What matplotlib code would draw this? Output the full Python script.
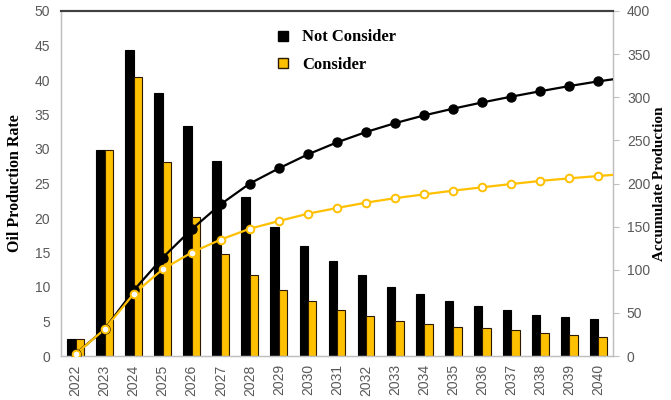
import matplotlib.pyplot as plt
from matplotlib.lines import Line2D

# --- data ---
years = [str(y) for y in range(2022, 2041)]
rate_not = [2.4, 29.9, 44.3, 38.1, 33.3, 28.2, 23.0, 18.7, 15.9, 13.8,
            11.7, 10.0, 9.0, 7.9, 7.2, 6.6, 6.0, 5.6, 5.4]
rate_con = [2.4, 29.9, 40.4, 28.1, 20.1, 14.8, 11.7, 9.5, 8.0, 6.7,
            5.8, 5.1, 4.6, 4.2, 4.0, 3.8, 3.4, 3.0, 2.8]
cum_not = [2.4, 31, 76, 114, 147, 176, 200, 217.6, 233.8, 247.7,
           259.7, 270, 279, 286.8, 294, 300.7, 307, 313, 318.5]
cum_con = [2.0, 31, 72, 100.5, 120, 135, 147.6, 156.5, 165, 171.6,
           177.8, 183, 187.4, 191.7, 195.6, 199.4, 203, 206, 208.7]
# where each curve meets the right edge of the plot
cum_not_edge = 320.8
cum_con_edge = 210.0

black = "#000000"
gold = "#FFC000"
grey_txt = "#595959"
grey_axis = "#BFBFBF"

fig = plt.figure(figsize=(6.71, 4.0), dpi=100)
ax = fig.add_axes([0.0909, 0.11, 0.8227, 0.8625])
ax2 = ax.twinx()

x = list(range(len(years)))
w = 0.29
ax.bar([i - w / 2 for i in x], rate_not, width=w, color=black,
       edgecolor=black, linewidth=0.8, zorder=2)
ax.bar([i + w / 2 for i in x], rate_con, width=w, color=gold,
       edgecolor="#2b1a00", linewidth=0.8, zorder=2)

# accumulated production lines (running to the right edge)
x_edge = x + [len(years) - 0.5]
ax2.plot(x_edge, cum_not + [cum_not_edge], color=black, lw=1.6, zorder=3)
ax2.plot(x, cum_not, ls="none", marker="o", ms=6.5, color=black, zorder=4)
ax2.plot(x_edge, cum_con + [cum_con_edge], color=gold, lw=1.6, zorder=3)
ax2.plot(x, cum_con, ls="none", marker="o", ms=5.5, mfc="white",
         mec=gold, mew=1.4, zorder=4)

ax.set_xlim(-0.5, len(years) - 0.5)
ax.set_ylim(0, 50)
ax2.set_ylim(0, 400)
ax.set_yticks(range(0, 51, 5))
ax2.set_yticks(range(0, 401, 50))
ax.set_xticks(x)
ax.set_xticklabels(years, rotation=90)

for lab in ax.get_yticklabels() + ax2.get_yticklabels() + ax.get_xticklabels():
    lab.set_fontfamily("Liberation Sans")
    lab.set_fontsize(10)
    lab.set_color(grey_txt)

ax.tick_params(axis="y", length=0, pad=8)
ax.tick_params(axis="x", length=0, pad=6)
ax2.tick_params(axis="y", length=4, color=grey_axis, width=0.8, pad=6)

for a in (ax, ax2):
    for side in ("left", "right", "bottom"):
        a.spines[side].set_color(grey_axis)
        a.spines[side].set_linewidth(0.9)
    a.spines["top"].set_color("#404040")
    a.spines["top"].set_linewidth(1.5)

ax.set_ylabel("Oil Production Rate", family="Liberation Serif",
              fontweight="bold", fontsize=11.5, labelpad=8)
ax2.set_ylabel("Accumulate Production", family="Liberation Serif",
               fontweight="bold", fontsize=11, rotation=90, labelpad=2)

handles = [
    Line2D([], [], ls="none", marker="s", ms=7, color=black),
    Line2D([], [], ls="none", marker="s", ms=7, mfc=gold, mec="#2b1a00", mew=1.0),
]
ax2.legend(handles, ["Not Consider", "Consider"], loc="upper left",
           bbox_to_anchor=(0.352, 0.99), frameon=False, handletextpad=0.4,
           handlelength=1.5, labelspacing=0.7,
           prop={"family": "Liberation Serif", "weight": "bold", "size": 12})

fig.savefig("out.png", dpi=100)
